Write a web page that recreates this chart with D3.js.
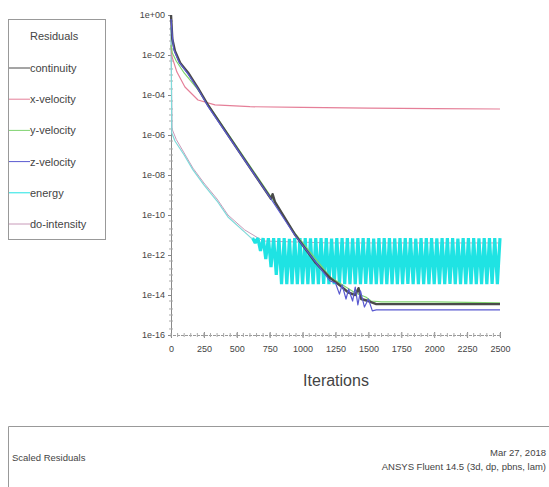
<!DOCTYPE html>
<html>
<head>
<meta charset="utf-8">
<title>Scaled Residuals</title>
<script src="https://d3js.org/d3.v7.min.js"></script>
<style>
  body { margin: 0; background: #fff; }
  svg { display: block; }
  text { font-family: "Liberation Sans", Arial, sans-serif; fill: #444; }
</style>
</head>
<body>
<div id="chart"></div>
<script>
// series names and colours (legend order)
const seriesNames = ["continuity", "x-velocity", "y-velocity", "z-velocity", "energy", "do-intensity"];
const seriesColors = ["#4a4a4a", "#e57f98", "#7fd36f", "#5a5ad0", "#1fe3e3", "#c89ab9"];

// iteration / scaled residual pairs
const continuityIt = [0, 10, 30, 70, 130, 205, 280, 500, 760, 772, 790, 940, 1100, 1210, 1300, 1350, 1400, 1425, 1445, 1500, 1560, 2500];
const continuityRes = [1, 6.3e-2, 1.6e-2, 4e-3, 1.3e-3, 2.2e-4, 3.2e-5, 2.2e-7, 6.5e-10, 1.1e-9, 4.5e-10, 1.1e-11, 4e-13, 7e-14, 2.5e-14, 1.3e-14, 1e-14, 2.2e-14, 6.3e-15, 5e-15, 3.5e-15, 3.5e-15];

const xVelIt = [0, 8, 45, 106, 205, 334, 600, 1000, 1500, 2000, 2500];
const xVelRes = [3e-2, 8e-3, 1.4e-3, 2.5e-4, 5.6e-5, 3.2e-5, 2.6e-5, 2.4e-5, 2.2e-5, 2.1e-5, 2e-5];

const yVelIt = [0, 10, 40, 100, 200, 280, 760, 940, 1210, 1400, 1480, 1520, 1600, 2000, 2500];
const yVelRes = [3.2e-2, 1.26e-2, 5e-3, 1.26e-3, 2e-4, 3.5e-5, 8e-10, 1.26e-11, 8e-14, 1.26e-14, 8e-15, 5e-15, 4.5e-15, 4.5e-15, 4e-15];

const zVelIt = [0, 8, 20, 60, 130, 205, 280, 760, 940, 1210, 1250, 1280, 1300, 1330, 1350, 1380, 1400, 1420, 1440, 1470, 1500, 1530, 1560, 2000, 2500];
const zVelRes = [6.3e-1, 1.26e-1, 2e-2, 4.5e-3, 1.1e-3, 2e-4, 2.8e-5, 6.3e-10, 1e-11, 5e-14, 4e-14, 1.1e-14, 3.2e-14, 6.3e-15, 2e-14, 5e-15, 2.5e-14, 3.2e-15, 1.6e-14, 2.5e-15, 6.3e-15, 1.6e-15, 1.8e-15, 1.8e-15, 1.8e-15];

// energy: smooth decay, then oscillating band (one sample every 20 iterations from 620)
const energyIt = [0, 6, 30, 100, 167, 250, 350, 433, 560, 610, 620];
const energyRes = [2.5e-1, 1.26e-6, 5e-7, 1e-7, 1.8e-8, 3.2e-9, 5e-10, 8e-11, 1.4e-11, 7e-12, 7e-12];
const energyBand = [
  7e-12, 4e-12, 7e-12, 1.6e-12, 7e-12, 6.3e-13, 7e-12, 2.5e-13, 7e-12, 1e-13,
  7e-12, 3.5e-14, 7e-12, 3.5e-14, 6.5e-12, 3.5e-14, 7e-12, 3.5e-14, 7e-12, 3.5e-14,
  7e-12, 3.5e-14, 6.8e-12, 3.5e-14, 7e-12, 3.5e-14, 7e-12, 3.6e-14, 7e-12, 3.5e-14,
  6.6e-12, 3.5e-14, 7e-12, 3.5e-14, 7e-12, 3.5e-14, 7e-12, 3.5e-14, 6.8e-12, 3.5e-14,
  7e-12, 3.5e-14, 7e-12, 3.6e-14, 7e-12, 3.5e-14, 6.6e-12, 3.5e-14, 7e-12, 3.5e-14,
  7e-12, 3.5e-14, 7e-12, 3.5e-14, 6.8e-12, 3.5e-14, 7e-12, 3.5e-14, 7e-12, 3.6e-14,
  7e-12, 3.5e-14, 6.6e-12, 3.5e-14, 7e-12, 3.5e-14, 7e-12, 3.5e-14, 7e-12, 3.5e-14,
  6.8e-12, 3.5e-14, 7e-12, 3.5e-14, 7e-12, 3.6e-14, 7e-12, 3.5e-14, 6.6e-12, 3.5e-14,
  7e-12, 3.5e-14, 7e-12, 3.5e-14, 7e-12, 3.5e-14, 6.8e-12, 3.5e-14, 7e-12, 3.5e-14,
  7e-12, 3.6e-14, 7e-12, 3.5e-14, 7e-12
];

const doIt = [0, 8, 40, 167, 250, 350, 433, 560, 700, 1200, 2500];
const doRes = [1e-1, 2e-6, 6e-7, 2.2e-8, 4e-9, 6.3e-10, 1e-10, 1.8e-11, 5e-12, 4e-12, 4e-12];

// axis ticks
const yTicks = [1, 1e-2, 1e-4, 1e-6, 1e-8, 1e-10, 1e-12, 1e-14, 1e-16];
const xTicks = [0, 250, 500, 750, 1000, 1250, 1500, 1750, 2000, 2250, 2500];

const W = 549, H = 487;
const svg = d3.select("#chart").append("svg")
    .attr("width", W)
    .attr("height", H);

const x = d3.scaleLinear().domain([0, 2500]).range([171, 500]);
const y = d3.scaleLog().domain([1e-16, 1]).range([335, 15]);

const zip = (its, res) => its.map((it, i) => ({it: it, r: res[i]}));
const bandPts = energyBand.map((r, i) => ({it: 620 + i * 20, r: r}));

const data = {
    "continuity": zip(continuityIt, continuityRes),
    "x-velocity": zip(xVelIt, xVelRes),
    "y-velocity": zip(yVelIt, yVelRes),
    "z-velocity": zip(zVelIt, zVelRes),
    "energy": zip(energyIt, energyRes),
    "do-intensity": zip(doIt, doRes)
};

// axes
const fmt = v => {
    const e = Math.round(Math.log10(v));
    return "1e" + (e < 0 ? "-" : "+") + String(Math.abs(e)).padStart(2, "0");
};

const yAxis = svg.append("g")
    .attr("transform", "translate(171,0)")
    .call(d3.axisLeft(y).tickValues(yTicks).tickFormat(fmt).tickSize(3).tickPadding(3));
yAxis.select(".domain").attr("stroke", "#888");
yAxis.selectAll(".tick line").attr("stroke", "#888");
yAxis.selectAll(".tick text").attr("font-size", 9).attr("fill", "#444").attr("font-family", "Liberation Sans, Arial");

// minor y ticks (each decade plus 2x and 5x)
const yMinor = [];
for (let e = 0; e > -16; e--) {
    yMinor.push(Math.pow(10, e - 1) * 5, Math.pow(10, e - 1) * 2);
    if ((-e) % 2 === 0) yMinor.push(Math.pow(10, e - 1));
}
svg.append("g").selectAll("line")
    .data(yMinor)
    .join("line")
    .attr("x1", 169).attr("x2", 173)
    .attr("y1", d => y(d)).attr("y2", d => y(d))
    .attr("stroke", "#aaa");

const xAxis = svg.append("g")
    .attr("transform", "translate(0,335)")
    .call(d3.axisBottom(x).tickValues(xTicks).tickFormat(d3.format("d")).tickSize(3).tickPadding(8));
xAxis.select(".domain").attr("stroke", "#999").attr("stroke-dasharray", "3,1");
xAxis.selectAll(".tick line").attr("stroke", "#888").attr("y1", -3);
xAxis.selectAll(".tick text").attr("font-size", 9).attr("fill", "#444").attr("font-family", "Liberation Sans, Arial");

svg.append("g").selectAll("line")
    .data(d3.range(0, 2501, 50))
    .join("line")
    .attr("x1", d => x(d)).attr("x2", d => x(d))
    .attr("y1", 333).attr("y2", 337)
    .attr("stroke", "#aaa");

svg.append("text")
    .attr("x", 336).attr("y", 386)
    .attr("text-anchor", "middle")
    .attr("font-size", 16)
    .attr("fill", "#555")
    .text("Iterations");

// series
const line = d3.line().x(d => x(d.it)).y(d => y(d.r));
const plot = svg.append("g");

plot.append("path")
    .attr("d", line(data["do-intensity"]))
    .attr("fill", "none")
    .attr("stroke", seriesColors[5])
    .attr("stroke-width", 1);

// energy oscillation band, drawn wider so it reads as a solid striped block
plot.append("path")
    .attr("d", line(bandPts))
    .attr("fill", "none")
    .attr("stroke", seriesColors[4])
    .attr("stroke-width", 3.2)
    .attr("stroke-linejoin", "bevel");

const drawOrder = ["energy", "x-velocity", "y-velocity", "continuity", "z-velocity"];
const widths = {"continuity": 2.4, "x-velocity": 1.2, "y-velocity": 1.2, "z-velocity": 1.2, "energy": 1.2};

plot.selectAll("path.series")
    .data(drawOrder)
    .join("path")
    .attr("class", "series")
    .attr("d", n => line(data[n]))
    .attr("fill", "none")
    .attr("stroke", n => n === "energy" ? "#7fd9d9" : seriesColors[seriesNames.indexOf(n)])
    .attr("stroke-width", n => widths[n])
    .attr("stroke-linejoin", "round");

// legend
const lg = svg.append("g");
lg.append("rect")
    .attr("x", 8.5).attr("y", 19.5)
    .attr("width", 97).attr("height", 220)
    .attr("fill", "none").attr("stroke", "#999");
lg.append("text")
    .attr("x", 30).attr("y", 40)
    .attr("font-size", 11).attr("fill", "#444")
    .text("Residuals");
const items = lg.selectAll("g.item")
    .data(seriesNames)
    .join("g")
    .attr("class", "item")
    .attr("transform", (d, i) => "translate(0," + (68 + i * 31.2) + ")");
items.append("line")
    .attr("x1", 9).attr("x2", 30)
    .attr("stroke", (d, i) => seriesColors[i])
    .attr("stroke-width", 1);
items.append("text")
    .attr("x", 30).attr("y", 4)
    .attr("font-size", 11).attr("fill", "#444")
    .text(d => d);

// footer
svg.append("path")
    .attr("d", "M8.5,487V426.5H549")
    .attr("fill", "none").attr("stroke", "#999");
svg.append("text")
    .attr("x", 12).attr("y", 461)
    .attr("font-size", 9.5).attr("fill", "#333")
    .text("Scaled Residuals");
svg.append("text")
    .attr("x", 546).attr("y", 456)
    .attr("text-anchor", "end")
    .attr("font-size", 9.5).attr("fill", "#333")
    .text("Mar 27, 2018");
svg.append("text")
    .attr("x", 546).attr("y", 470)
    .attr("text-anchor", "end")
    .attr("font-size", 9.5).attr("fill", "#333")
    .text("ANSYS Fluent 14.5 (3d, dp, pbns, lam)");
</script>
</body>
</html>
